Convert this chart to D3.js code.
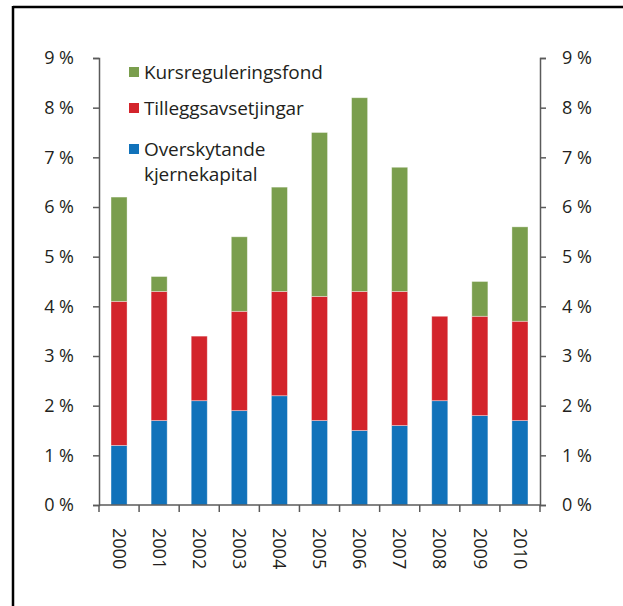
<!DOCTYPE html>
<html>
<head>
<meta charset="utf-8">
<script src="https://cdn.jsdelivr.net/npm/d3@7"></script>
<style>
  body { margin: 0; background: #fff; }
  svg text { font-family: "Open Sans", "Noto Sans", sans-serif; fill: #231f20; }
</style>
</head>
<body>
<div id="chart"></div>
<script>
// Data (percent)
const years = ["2000", "2001", "2002", "2003", "2004", "2005", "2006", "2007", "2008", "2009", "2010"];
const kjernekapital = [1.2, 1.7, 2.1, 1.9, 2.2, 1.7, 1.5, 1.6, 2.1, 1.8, 1.7];
const tillegg = [2.9, 2.6, 1.3, 2.0, 2.1, 2.5, 2.8, 2.7, 1.7, 2.0, 2.0];
const kursregulering = [2.1, 0.3, 0, 1.5, 2.1, 3.3, 3.9, 2.5, 0, 0.7, 1.9];
const yTicks = [0, 1, 2, 3, 4, 5, 6, 7, 8, 9];

const seriesKeys = ["kjerne", "tillegg", "kurs"];
const colors = {kjerne: "#1172ba", tillegg: "#d3242b", kurs: "#7a9e4d"};
const legendItems = [
    {key: "kurs", lines: ["Kursreguleringsfond"]},
    {key: "tillegg", lines: ["Tilleggsavsetjingar"]},
    {key: "kjerne", lines: ["Overskytande", "kjernekapital"]}
];

const W = 623, H = 606;
const margin = {top: 58, right: 83, bottom: 101, left: 99};

let table = years.map(function(y, i) {
    return {year: y, kjerne: kjernekapital[i], tillegg: tillegg[i], kurs: kursregulering[i]};
});

let svg = d3.select("#chart").append("svg")
    .attr("width", W)
    .attr("height", H);

// frame (top and left edges visible)
svg.append("line").attr("x1", 13).attr("x2", W).attr("y1", 7).attr("y2", 7)
    .attr("stroke", "#000").attr("stroke-width", 2.5);
svg.append("line").attr("x1", 13).attr("x2", 13).attr("y1", 6).attr("y2", H)
    .attr("stroke", "#000").attr("stroke-width", 2.5);

let width = W - margin.left - margin.right;
let height = H - margin.top - margin.bottom;

let g = svg.append("g")
    .attr("transform", "translate(" + margin.left + "," + margin.top + ")");

let x = d3.scaleBand().domain(years).range([0, width]).paddingInner(0.6).paddingOuter(0.3);
let xEdges = d3.scaleBand().domain(years).range([0, width]);
let y = d3.scaleLinear().domain([0, 9]).range([height, 0]);

let stack = d3.stack().keys(seriesKeys)(table);

g.selectAll(".layer")
    .data(stack)
    .enter().append("g")
    .attr("class", "layer")
    .attr("fill", function(d) { return colors[d.key]; })
    .selectAll("rect")
    .data(function(d) { return d.filter(function(e) { return e[1] - e[0] > 0; }); })
    .enter().append("rect")
    .attr("x", function(d) { return x(d.data.year); })
    .attr("width", x.bandwidth())
    .attr("y", function(d) { return y(d[1]); })
    .attr("height", function(d) { return y(d[0]) - y(d[1]); })
    .attr("stroke", "rgba(255,255,255,0.45)")
    .attr("stroke-width", 0.8);

const axisColor = "#5a5a5a";
const fmt = function(d) { return d + " %"; };

// left axis
let yl = g.append("g")
    .call(d3.axisLeft(y).tickValues(yTicks).tickSize(6).tickPadding(19).tickFormat(fmt));
// right axis
let yr = g.append("g")
    .attr("transform", "translate(" + width + ",0)")
    .call(d3.axisRight(y).tickValues(yTicks).tickSize(6).tickPadding(16).tickFormat(fmt));
[yl, yr].forEach(function(a) {
    a.select(".domain").attr("stroke", axisColor).attr("stroke-width", 1.5);
    a.selectAll(".tick line").attr("stroke", axisColor).attr("stroke-width", 1.5);
    a.selectAll("text").attr("font-size", 18).attr("fill", "#231f20")
        .style("font-family", "'Open Sans', sans-serif");
});

// x axis: ticks at band edges
let xa = g.append("g").attr("transform", "translate(0," + height + ")");
xa.append("line").attr("x1", 0).attr("x2", width)
    .attr("stroke", axisColor).attr("stroke-width", 1.5);
let edges = years.map(function(d) { return xEdges(d); }).concat([width]);
xa.selectAll(".edge")
    .data(edges)
    .enter().append("line")
    .attr("x1", function(d) { return d; })
    .attr("x2", function(d) { return d; })
    .attr("y1", 0).attr("y2", 7)
    .attr("stroke", axisColor).attr("stroke-width", 1.5);
xa.selectAll(".year")
    .data(years)
    .enter().append("text")
    .attr("transform", function(d) {
        return "translate(" + (x(d) + x.bandwidth() / 2) + ",23) rotate(90)";
    })
    .attr("dy", "0.35em")
    .attr("font-size", 18)
    .text(function(d) { return d; });

// legend
let legend = svg.append("g").attr("transform", "translate(129,0)");
let legendY = [79, 115, 156];
legendItems.forEach(function(item, i) {
    let lg = legend.append("g").attr("transform", "translate(0," + legendY[i] + ")");
    lg.append("rect")
        .attr("x", 0).attr("y", -12)
        .attr("width", 10).attr("height", 10)
        .attr("fill", colors[item.key]);
    item.lines.forEach(function(t, j) {
        lg.append("text")
            .attr("x", 15)
            .attr("y", j * 25)
            .attr("font-size", 19)
            .attr("letter-spacing", -0.1)
            .text(t);
    });
});
</script>
</body>
</html>
